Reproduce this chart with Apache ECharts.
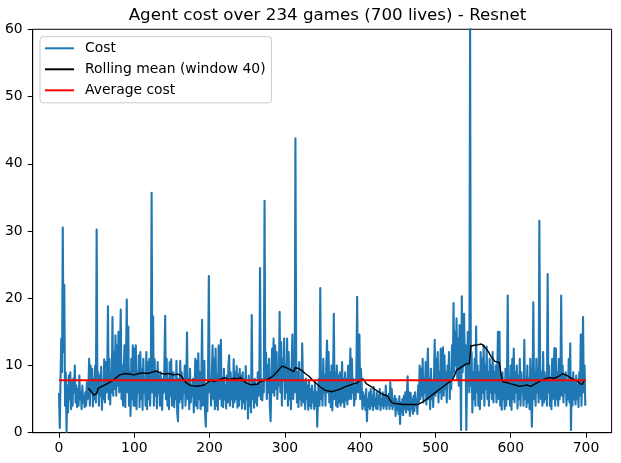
<!DOCTYPE html>
<html><head><meta charset="utf-8">
<script src="https://cdn.jsdelivr.net/npm/echarts@6/dist/echarts.min.js"></script>
<style>html,body{margin:0;padding:0;background:#fff}#c{width:621px;height:463px}</style>
</head><body><div id="c"></div>
<script>
const chartTitle = 'Agent cost over 234 games (700 lives) - Resnet';
const seriesNames = ['Cost', 'Rolling mean (window 40)', 'Average cost'];

const costValues = [
5.9,0.7,8,14,9,30.5,12,22,4,9,0.1,7,3,8.5,5,9,3.5,7.5,4,8,
6,10,4.5,7,3.8,6.5,4,8.5,5,6,3.5,7,4.5,5.5,3.8,6,4,7.5,5,6,
11,4,10,6,9.5,3.9,8,5,10,4.5,30.2,6,9,4,8.5,5.5,9.8,3.4,7,5,
10.9,4.5,10.5,6,8,18.8,5,11,4.2,9,6,17.2,5.5,12,6.5,14.5,5.5,13,7,15,
6,12,18.3,5,10,4,9,13,3.8,11,19.8,6,15.8,4,9,2.5,11,5,13,4,
12.5,4,13,3.5,9,6,11.5,3.8,12,5,9.5,3.4,11,6,8,4,12,3.5,10.5,5,
11,4,8,35.7,6,17.3,4,10.9,5.5,9,3.6,10.5,6,8.5,4,9,5,3.4,8,6,
10,17.4,5,11,4,8,3.5,10.5,5.5,10.9,4,8,9,3.8,7.5,5,10.7,3,1.7,8,
4.5,10.7,5,9,3.6,8,6,10,4,7,14.9,5,8,3.5,9.5,4.5,7,5.5,8,3,
6,11,4,10.7,3.6,11.8,5,9,3.5,7,16.8,4,6,10.7,3,0.9,7,3.2,9,23.3,
6,7.9,4,9,13,5,11,3.5,12.5,4,8.5,3.4,13,5,9,13.8,4,8,3.8,9.5,
5,7,3.6,8.5,4.5,10,11.5,4,9,5,7.5,3.8,10.9,4.5,9,5,9.9,3.7,8.7,4,
9.5,5,8.5,3.6,9,4.5,8,3.5,9.9,5,7,2.1,8.5,4,6.5,3,17.5,5,7.5,3.7,
8,4.5,7,4,9,5.5,6,24.5,5,8,4.8,7.5,6,34.5,8,11.9,5,10,6,11,
4,1.7,7,12.5,6,14,5.5,13,6.5,12,5,9,7,18,6,13.5,4,11,8,14,
5,10,6,14,4,12,5,9.5,3.5,10,14.6,5,8,6,43.8,11,4.5,9,3.8,10.5,
5,8,4,13.3,7,4.5,7.5,3.5,8,5,7,3.4,7.8,4,6.5,3.6,7,4.5,6,3.5,
7.5,4,6,0.9,5.5,8,4,21.5,5,9,4,11,6,8.5,4,10,13.7,6,12,4.5,
9,3.8,10,3.3,7,17.7,5,9,4,10,3.8,8.5,4.5,9,4,6,10.5,4.5,8,3.8,
9,4.8,8,4.2,10,5,7.5,12.5,5,11,6,8,4,7,5,9,20.2,6,9,14.6,
5,9.5,7,3.5,6,4,5.5,3.4,6.5,1.7,5,3.8,6,3.5,6.5,4,5.5,3.4,6.8,4,
5,3.6,6,3.5,5.5,4.2,6.5,3.4,5,4,6,3.6,5.5,4,7,3.5,5,4.2,5.8,3.5,
7.5,4,6.5,3.5,5,4,5.5,2.5,5,3.4,4.5,2.8,5.4,1.3,4.5,3,5,2.6,5.5,3.5,
6,3,5.5,8.4,3.4,6,2.5,5.9,3.5,5,2.8,5.5,3.2,6,4,5,2.8,7,4.5,10,
5,9.5,5.5,11,4.5,8,6,10.5,4.2,9,12.5,5,8,3.5,9.5,5,7.5,3.8,8,13.8,
5.5,11,6,12,4.5,9,6,12.5,5,10,12.7,5.5,11.5,6.5,9,4.5,10,7.5,12,5,
9,6.5,13,8,19.3,9,15,10,17,8,14,7,16,10.5,0.4,20.3,9,12,17.7,10,
13,0.4,9,15,10,6,61,7,12,3,9,5,11,4,15.8,6,10,4,9,3.5,
12,5,11,6,13,4,10,6.5,12.8,5,9,4,11,6,10,5,12,4.5,9,6,
10,4.5,8,15,5,15,4,8.5,3.4,9,5,7.5,3.5,9.5,4,8,20.4,5,8,4,
10,3.4,11,5,12.5,4.5,9,6,10,3.6,8.5,5,11,4,9,6,7.5,4,13.8,5,
8,3.8,10,4.5,8,3.5,11,7,0.9,6,19.4,5,9,4,11,6,8,4.5,31.5,10,
5,9,4,12,4.5,9,5,8.5,4,23.6,6,10,4,8,3.5,11,5,9,12.6,4,
12.5,5,9,4,11,5,8,20.4,5.5,10,4.5,8.5,6,9,4,7.5,5,11,4.5,13.3,
0.4,8,4,9,5,7.5,4.2,8.5,5,7,3.8,9,5.5,14.6,4,9,17.2,6,10,4
];

const rollIdx = [39,43,46,48,50,52,56,61,66,72,76,81,88,95,100,106,112,118,124,129,134,140,146,152,158,162,166,169,175,184,193,202,206,211,220,226,232,237,241,246,251,255,259,264,267,274,283,290,296,301,305,312,314,319,323,327,332,336,341,347,354,358,363,368,374,381,387,392,396,400,404,408,414,420,427,432,436,440,443,449,457,467,477,482,486,492,500,506,513,518,522,525,528,535,540,545,547,552,557,561,565,570,574,579,585,587,589,593,599,606,612,617,621,627,631,636,643,651,658,664,669,675,682,687,692,695,698,699];
const rollVal = [6.6,6.1,5.6,5.4,5.8,6.6,6.8,7.1,7.4,7.8,8.2,8.6,8.8,8.7,8.6,8.8,8.9,8.8,9.0,9.2,8.9,8.7,8.8,8.6,8.7,8.5,7.8,7.4,7.0,6.9,7.1,7.8,7.6,7.8,8.2,7.9,8.1,8.0,8.2,7.6,7.3,7.1,7.2,7.2,7.6,7.8,8.3,9.1,9.9,9.7,9.5,9.1,9.7,9.5,9.2,8.8,8.4,7.9,7.4,6.8,6.3,6.2,6.1,6.3,6.5,6.9,7.1,7.3,7.4,7.8,8.0,7.3,6.9,6.4,5.9,5.6,5.5,4.8,4.4,4.3,4.2,4.2,4.2,4.5,4.8,5.3,6.0,6.5,7.1,7.5,7.8,8.4,9.3,9.8,10.2,10.3,12.9,13.0,13.1,13.2,12.8,12.1,11.3,10.6,10.4,8.8,7.6,7.5,7.3,7.1,6.9,7.0,7.1,6.9,7.2,7.5,7.9,8.2,8.1,8.4,8.8,8.5,8.0,7.8,7.3,7.2,7.8,7.9];

const averageCost = 7.8;
const xTickValues = [0,100,200,300,400,500,600,700];
const yTickValues = [0,10,20,30,40,50,60];

const chart = echarts.init(document.getElementById('c'), null, {renderer: 'canvas'});
const costData = costValues.map((v, i) => [i, v]);
const rollData = rollIdx.map((x, k) => [x, rollVal[k]]);
const avgData = [[0, averageCost], [costValues.length - 1, averageCost]];
const FONT = 'DejaVu Sans';

chart.setOption({
  animation: false,
  backgroundColor: '#ffffff',
  title: {
    text: chartTitle,
    left: 322.5,
    textAlign: 'center',
    top: 2,
    textStyle: {fontFamily: FONT, fontSize: 16.7, fontWeight: 'normal', color: '#000'}
  },
  legend: {
    orient: 'vertical',
    left: 40,
    top: 36.7,
    padding: [4.6, 6, 5.5, 4],
    itemWidth: 29,
    itemHeight: 14,
    itemGap: 7,
    backgroundColor: 'rgba(255,255,255,0.8)',
    borderColor: '#cccccc',
    borderWidth: 1,
    borderRadius: 3,
    itemStyle: {color: 'rgba(0,0,0,0)', borderColor: 'rgba(0,0,0,0)', borderWidth: 0, opacity: 0},
    textStyle: {fontFamily: FONT, fontSize: 13.9, color: '#000', padding: [0, 0, 0, 6]},
    data: seriesNames
  },
  grid: {
    left: 32.7, right: 9.4, top: 29.3, bottom: 30.3,
    show: true, borderColor: '#000', borderWidth: 1, backgroundColor: 'transparent'
  },
  xAxis: {
    type: 'value',
    min: -34.95,
    max: 733.95,
    splitNumber: 8,
    splitLine: {show: false},
    axisLine: {show: true, onZero: false, lineStyle: {color: '#000', width: 1}},
    axisTick: {show: true, length: 5, lineStyle: {color: '#000', width: 1}, customValues: xTickValues},
    axisLabel: {fontFamily: FONT, fontSize: 13.9, color: '#000', margin: 9, customValues: xTickValues}
  },
  yAxis: {
    type: 'value',
    min: 0,
    max: 60,
    interval: 10,
    splitLine: {show: false},
    axisLine: {show: true, onZero: false, lineStyle: {color: '#000', width: 1}},
    axisTick: {show: true, length: 5, lineStyle: {color: '#000', width: 1}},
    axisLabel: {fontFamily: FONT, fontSize: 13.9, color: '#000', margin: 10}
  },
  series: [
    {
      name: seriesNames[0], type: 'line', data: costData, symbol: 'none', silent: true,
      lineStyle: {color: '#1f77b4', width: 2.1, join: 'round'}, itemStyle: {color: '#1f77b4'}, z: 2
    },
    {
      name: seriesNames[1], type: 'line', data: rollData, symbol: 'none', silent: true,
      lineStyle: {color: '#000000', width: 1.4, join: 'round'}, itemStyle: {color: '#000000'}, z: 3
    },
    {
      name: seriesNames[2], type: 'line', data: avgData, symbol: 'none', silent: true,
      lineStyle: {color: '#ff0000', width: 2.1}, itemStyle: {color: '#ff0000'}, z: 4
    }
  ]
});
</script>
</body></html>
